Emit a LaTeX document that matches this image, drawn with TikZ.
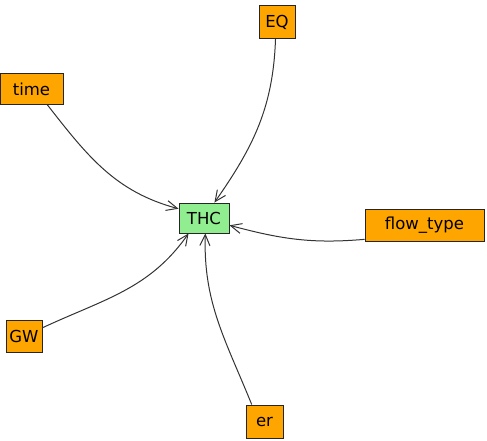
\documentclass[tikz,border=0pt]{standalone}
\usepackage{fontspec}
\setmainfont{DejaVu Sans}
\usetikzlibrary{arrows.meta}
\definecolor{factorfill}{HTML}{FFA500}
\definecolor{targetfill}{HTML}{90EE90}
\begin{document}
\begin{tikzpicture}[x=1pt,y=-1pt,
  box/.style={draw=black!85,line width=0.9pt,inner sep=0pt,
    font=\fontsize{16.5}{18}\selectfont},
  factor/.style={box,fill=factorfill},
  target/.style={box,fill=targetfill},
  link/.style={draw=black!80,line width=1pt,
    -{Straight Barb[length=11pt,width=10pt,line width=1pt]}}]
\useasboundingbox (0,0) rectangle (487,441);
\node[target,minimum width=50,minimum height=30] (THC) at (204,218) {THC};
\node[factor,minimum width=36,minimum height=33] (EQ) at (277,22) {EQ};
\node[factor,minimum width=63,minimum height=31] (time) at (31.5,89) {time};
\node[factor,minimum width=119,minimum height=32] (flow) at (424.5,225.5) {flow\_type};
\node[factor,minimum width=36,minimum height=32] (GW) at (24,336) {GW};
\node[factor,minimum width=37,minimum height=33] (er) at (264.5,421.5) {er};
\draw[link] (EQ.-95) to[out=-92,in=55] (THC.56);
\draw[link] (time.-45) to[out=-52,in=165] (THC.160);
\draw[link] (flow.-167) to[out=185,in=-15] (THC.-16);
\draw[link] (GW.24) to[out=25,in=-125] (THC.-135);
\draw[link] (er.127) to[out=112,in=-92] (THC.-85);
\end{tikzpicture}
\end{document}
